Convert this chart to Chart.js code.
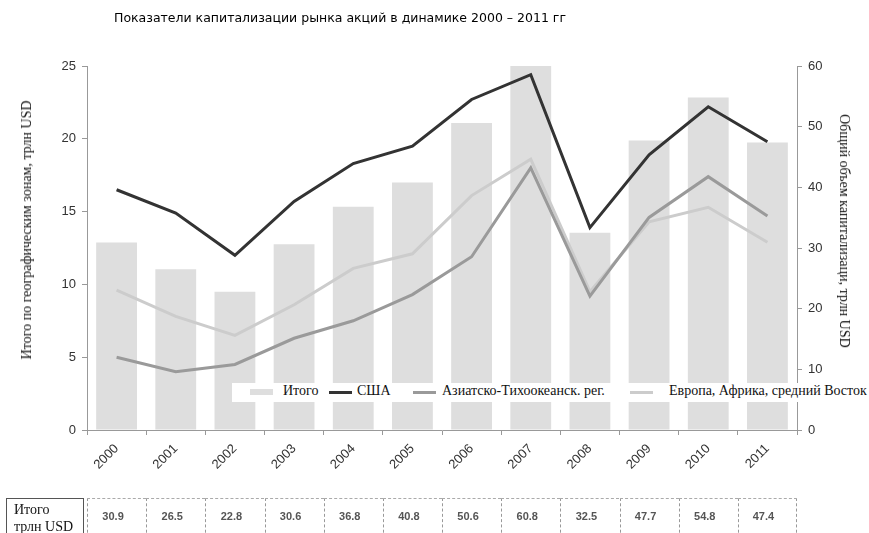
<!DOCTYPE html>
<html>
<head>
<meta charset="utf-8">
<script src="https://cdn.jsdelivr.net/npm/chart.js@4.4.1/dist/chart.umd.min.js"></script>
<style>
  body { margin: 0; background: #fff; overflow: hidden; }
  #wrap { position: relative; width: 869px; height: 533px; }
  #title { position: absolute; left: 114px; top: 10px; font: 12.5px "DejaVu Sans", sans-serif; color: #000; white-space: nowrap; }
  .axtitle { position: absolute; font: 14px "Liberation Serif", serif; color: #111; white-space: nowrap; }
  #legend { position: absolute; left: 232px; top: 383px; width: 637px; height: 19px; background: #fff; }
  #legend .sw { position: absolute; }
  #legend .lb { position: absolute; top: 0; line-height: 19px; font: 14px "Liberation Serif", serif; color: #111; white-space: nowrap; }
  .cell { position: absolute; top: 498px; height: 40px; box-sizing: border-box; font: bold 11px "Liberation Sans", Arial, sans-serif; color: #555; }
</style>
</head>
<body>
<div id="wrap">
  <canvas id="chart" width="869" height="533"></canvas>
  <div id="title">Показатели капитализации рынка акций в динамике 2000 – 2011 гг</div>
  <div class="axtitle" id="ytl" style="left:27px;top:230px;transform:translate(-50%,-50%) rotate(-90deg)">Итого по географическим зонам, трлн USD</div>
  <div class="axtitle" id="ytr" style="left:844px;top:231px;transform:translate(-50%,-50%) rotate(90deg)">Общий объем капитализаци, трлн USD</div>
  <div id="legend"></div>
  <div id="table"></div>
</div>
<script>
// годы
const years = ['2000', '2001', '2002', '2003', '2004', '2005', '2006', '2007', '2008', '2009', '2010', '2011'];

// общий объем, трлн USD (правая ось, столбцы)
const totalCap = [30.9, 26.5, 22.8, 30.6, 36.8, 40.8, 50.6, 60.8, 32.5, 47.7, 54.8, 47.4];

// по зонам, трлн USD (левая ось, линии)
const usa = [16.5, 14.9, 12.0, 15.7, 18.3, 19.5, 22.7, 24.4, 13.9, 18.9, 22.2, 19.8];
const asiaPacific = [5.0, 4.0, 4.5, 6.3, 7.5, 9.3, 11.9, 18.0, 9.2, 14.6, 17.4, 14.7];
const europeAfrica = [9.6, 7.8, 6.5, 8.6, 11.1, 12.1, 16.1, 18.6, 9.5, 14.3, 15.3, 12.9];

const leftTicks = [0, 5, 10, 15, 20, 25];
const rightTicks = [0, 10, 20, 30, 40, 50, 60];

const axisGray = '#999';
const tickFont = { family: '"Liberation Sans", Arial, sans-serif', size: 13 };

const ctx = document.getElementById('chart');

const chart = new Chart(ctx, {
  type: 'bar',
  data: {
    labels: years,
    datasets: [
      {
        label: 'США',
        type: 'line',
        data: usa,
        borderColor: '#333333',
        borderWidth: 3,
        pointRadius: 0,
        yAxisID: 'y',
        order: 1
      },
      {
        label: 'Азиатско-Тихоокеанск. рег.',
        type: 'line',
        data: asiaPacific,
        borderColor: '#9a9a9a',
        borderWidth: 3,
        pointRadius: 0,
        yAxisID: 'y',
        order: 2
      },
      {
        label: 'Европа, Африка, средний Восток',
        type: 'line',
        data: europeAfrica,
        borderColor: '#cccccc',
        borderWidth: 3,
        pointRadius: 0,
        yAxisID: 'y',
        order: 3
      },
      {
        label: 'Итого',
        data: totalCap,
        backgroundColor: '#dedede',
        barPercentage: 0.69,
        categoryPercentage: 1,
        yAxisID: 'y1',
        order: 10
      }
    ]
  },
  options: {
    responsive: false,
    animation: false,
    layout: { padding: { top: 66, left: 0, right: 0, bottom: 0 } },
    plugins: {
      legend: { display: false },
      tooltip: { enabled: false }
    },
    scales: {
      x: {
        grid: { display: true, drawOnChartArea: false, offset: true, tickLength: 5, color: axisGray },
        border: { color: axisGray },
        ticks: { color: '#333', font: { family: tickFont.family, size: 13 }, maxRotation: 45, minRotation: 45, padding: 6 },
        afterFit: (s) => { s.height = 103; }
      },
      y: {
        position: 'left',
        min: 0,
        max: 25,
        afterBuildTicks: (s) => { s.ticks = leftTicks.map(v => ({ value: v })); },
        grid: { display: true, drawOnChartArea: false, tickLength: 5, color: axisGray },
        border: { color: axisGray },
        ticks: { color: '#333', font: tickFont, padding: 6 },
        afterFit: (s) => { s.width = 87; }
      },
      y1: {
        position: 'right',
        min: 0,
        max: 60,
        afterBuildTicks: (s) => { s.ticks = rightTicks.map(v => ({ value: v })); },
        grid: { display: true, drawOnChartArea: false, tickLength: 5, color: axisGray },
        border: { color: axisGray },
        ticks: { color: '#333', font: tickFont, padding: 6 },
        afterFit: (s) => { s.width = 72; }
      }
    }
  }
});

// легенда
const legendItems = [
  { text: 'Итого', color: '#dedede', h: 6, sw: 18, lb: 51 },
  { text: 'США', color: '#333333', h: 3, sw: 97, lb: 125 },
  { text: 'Азиатско-Тихоокеанск. рег.', color: '#9a9a9a', h: 3, sw: 181, lb: 210 },
  { text: 'Европа, Африка, средний Восток', color: '#cccccc', h: 3, sw: 398, lb: 437 }
];
const legend = document.getElementById('legend');
legendItems.forEach(it => {
  const sw = document.createElement('div');
  sw.className = 'sw';
  sw.style.cssText = `left:${it.sw}px;width:23px;height:${it.h}px;top:${9 - it.h / 2}px;background:${it.color}`;
  legend.appendChild(sw);
  const lb = document.createElement('div');
  lb.className = 'lb';
  lb.style.left = it.lb + 'px';
  lb.textContent = it.text;
  legend.appendChild(lb);
});

// таблица под графиком
const table = document.getElementById('table');
const xs = chart.scales.x;
const cw = xs.width / years.length;
const head = document.createElement('div');
head.className = 'cell';
head.style.cssText = `left:6px;width:78px;border:1px solid #555;border-bottom:none;padding:2px 0 0 7px;font:14px/17px "Liberation Serif",serif;color:#111;font-weight:normal`;
head.innerHTML = 'Итого<br>трлн USD';
table.appendChild(head);
totalCap.forEach((v, i) => {
  const c = document.createElement('div');
  c.className = 'cell';
  const left = xs.getPixelForValue(i) - cw / 2;
  c.style.left = left + 'px';
  c.style.width = cw + 'px';
  c.style.borderTop = '1px dashed #aaa';
  c.style.borderLeft = '1px dashed #999';
  if (i === totalCap.length - 1) c.style.borderRight = '1px dashed #999';
  c.style.textAlign = 'center';
  c.style.paddingTop = '11px';
  c.style.paddingRight = '8px';
  c.textContent = v.toFixed(1);
  table.appendChild(c);
});
</script>
</body>
</html>
